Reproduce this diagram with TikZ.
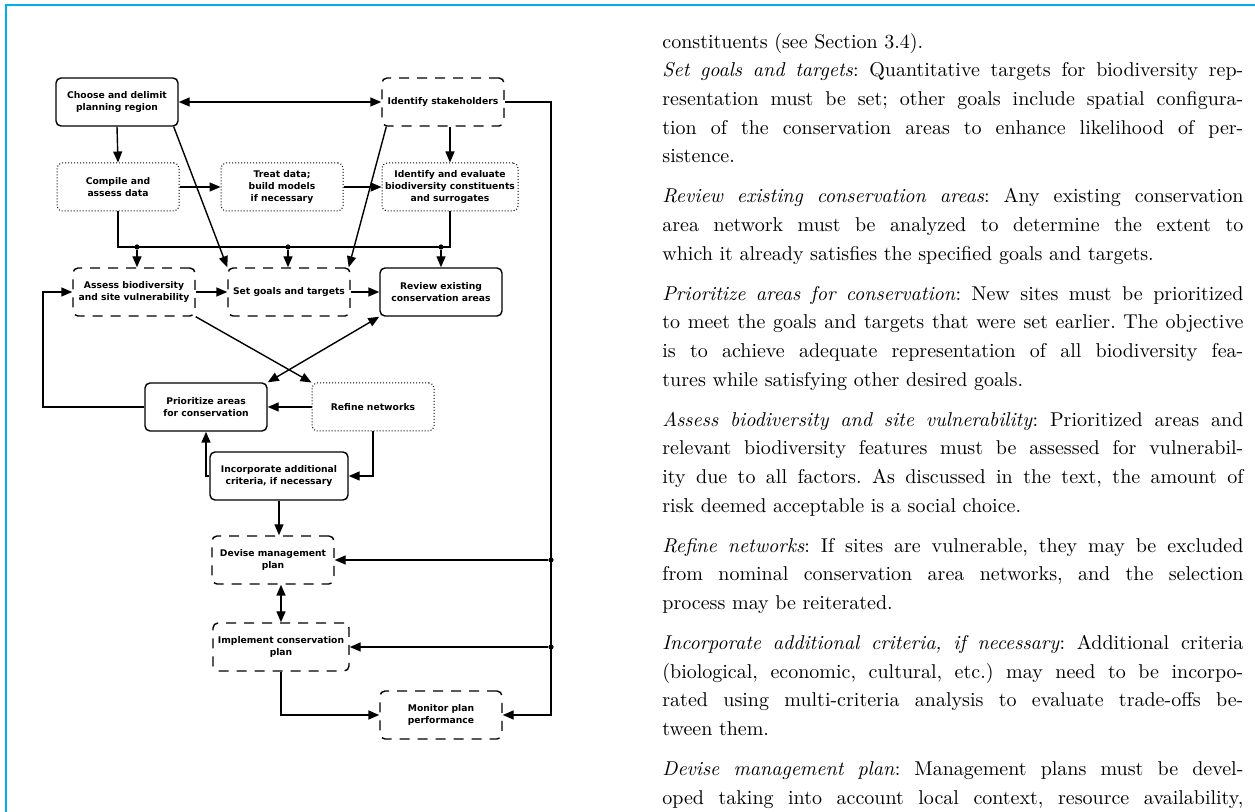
\documentclass[tikz,border=0pt]{standalone}
\usepackage{fontspec}
\newfontfamily\flowfont{DejaVu Sans}
\usetikzlibrary{arrows.meta}
\definecolor{framecyan}{RGB}{0,174,239}

\newcommand{\fullline}[1]{\noindent\hbox to 290.5pt{\spaceskip=0.333em plus 1.5em minus 0.12em\relax #1}\par}
\newcommand{\lastline}[1]{\noindent#1\par}
\newcommand{\paragap}{\vspace{5.8pt}}

\tikzset{
  box/.style={draw, rounded corners=2.5pt, minimum width=61pt, minimum height=24pt,
    align=center, inner sep=1pt, line width=0.7pt,
    font=\flowfont\bfseries\fontsize{4.6}{6}\selectfont},
  solidbox/.style={box},
  dashbox/.style={box, dash pattern=on 5pt off 4pt},
  dotbox/.style={box, line width=0.5pt, densely dotted},
  link/.style={line width=0.7pt, -{Triangle[length=5.5pt,width=4.5pt]}},
  twoway/.style={line width=0.7pt, {Triangle[length=5.5pt,width=4.5pt]}-{Triangle[length=5.5pt,width=4.5pt]}},
  junction/.style={circle, fill, inner sep=0pt, minimum size=2.6pt},
  bodytext/.style={text width=290.5pt, inner sep=0pt, anchor=north west,
    font=\fontsize{10}{14.3}\selectfont\frenchspacing},
}

\begin{document}
\begin{tikzpicture}[x=0.5pt, y=-0.5pt]
\useasboundingbox (0,0) rectangle (1255,812);
\draw[framecyan, line width=1.2pt] (6,812) -- (6,5) -- (1255,5);

% flow chart
\node[solidbox] (choose) at (117,102) {Choose and delimit\\planning region};
\node[dashbox] (stake) at (443,102) {Identify stakeholders};
\node[dotbox] (compile) at (118,187) {Compile and\\assess data};
\node[dotbox] (treat) at (282,187) {Treat data;\\build models\\if necessary};
\node[dotbox, minimum width=68pt] (ident) at (450,187) {Identify and evaluate\\biodiversity constituents\\and surrogates};
\node[dashbox] (assess) at (134,292) {Assess biodiversity\\and site vulnerability};
\node[dashbox] (setg) at (289,292) {Set goals and targets};
\node[solidbox] (review) at (441,292) {Review existing\\conservation areas};
\node[solidbox] (prio) at (206,407) {Prioritize areas\\for conservation};
\node[dotbox] (refine) at (373,407) {Refine networks};
\node[solidbox, minimum width=69pt] (incorp) at (279,476) {Incorporate additional\\criteria, if necessary};
\node[dashbox] (devise) at (273,560) {Devise management\\plan};
\node[dashbox, minimum width=68pt] (implem) at (281,647) {Implement conservation\\plan};
\node[dashbox] (monitor) at (441,715) {Monitor plan\\performance};

\coordinate (bus) at (0,247);
\coordinate (rail) at (551,0);
\coordinate (loop) at (43,0);

\draw[twoway] (choose.east) -- (stake.west);
\draw[link] (choose.south) -- (compile.north);
\draw[link] (compile.east) -- (treat.west);
\draw[link] (treat.east) -- (ident.west);
\draw[link] (ident.north |- stake.south) -- (ident.north);
\draw[line width=0.7pt] (compile.south) -- (compile.south |- bus) -| (ident.south);
\foreach \nd/\x in {assess/137, setg/288, review/441}{
  \node[junction] (j\nd) at (\x,247) {};
  \draw[link] (j\nd) -- (\nd.north -| j\nd);
}
\draw[link] ([xshift=-2.5pt]choose.south east) -- (setg.north west);
\draw[link] ([xshift=2.5pt]stake.south west) -- ([xshift=-1pt]setg.north east);
\draw[link] (assess.east) -- (setg.west);
\draw[link] (setg.east) -- (review.west);
\draw[link] (assess.south east) -- (refine.north west);
\draw[twoway] (review.south west) -- (prio.north east);
\draw[link] (refine.west) -- (prio.east);
\draw[link] (prio.west) -- (prio.west -| loop) |- (assess.west);
\draw[link] (incorp.west) -| (prio.south);
\draw[link] (refine.south) |- (incorp.east);
\draw[link] (incorp.south) -- (incorp.south |- devise.north);
\draw[twoway] (implem.north |- devise.south) -- (implem.north);
\draw[link] (implem.south) |- (monitor.west);
\draw[link] (stake.east) -- (stake.east -| rail) |- (monitor.east);
\foreach \nd in {devise, implem}{
  \node[junction] (r\nd) at (\nd.east -| rail) {};
  \draw[link] (r\nd) -- (\nd.east);
}

% running text
\node[bodytext] (body) at (662,33) {%
\lastline{constituents (see Section 3.4).}
\fullline{\emph{Set goals and targets}: Quantitative targets for biodiversity rep-}
\fullline{resentation must be set; other goals include spatial configura-}
\fullline{tion of the conservation areas to enhance likelihood of per-}
\lastline{sistence.}\paragap
\fullline{\emph{Review existing conservation areas}: Any existing conservation}
\fullline{area network must be analyzed to determine the extent to}
\lastline{which it already satisfies the specified goals and targets.}\paragap
\fullline{\emph{Prioritize areas for conservation}: New sites must be prioritized}
\fullline{to meet the goals and targets that were set earlier. The objective}
\fullline{is to achieve adequate representation of all biodiversity fea-}
\lastline{tures while satisfying other desired goals.}\paragap
\fullline{\emph{Assess biodiversity and site vulnerability}: Prioritized areas and}
\fullline{relevant biodiversity features must be assessed for vulnerabil-}
\fullline{ity due to all factors. As discussed in the text, the amount of}
\lastline{risk deemed acceptable is a social choice.}\paragap
\fullline{\emph{Refine networks}: If sites are vulnerable, they may be excluded}
\fullline{from nominal conservation area networks, and the selection}
\lastline{process may be reiterated.}\paragap
\fullline{\emph{Incorporate additional criteria, if necessary}: Additional criteria}
\fullline{(biological, economic, cultural, etc.) may need to be incorpo-}
\fullline{rated using multi-criteria analysis to evaluate trade-offs be-}
\lastline{tween them.}\paragap
\fullline{\emph{Devise management plan}: Management plans must be devel-}
\fullline{oped taking into account local context, resource availability,}%
};
\end{tikzpicture}
\end{document}
